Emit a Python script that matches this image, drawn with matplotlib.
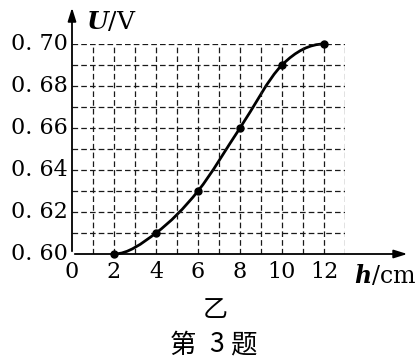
import matplotlib
matplotlib.use("Agg")
import matplotlib.pyplot as plt
from matplotlib.path import Path
from matplotlib.patches import PathPatch
import numpy as np

plt.rcParams["mathtext.fontset"] = "custom"
plt.rcParams["mathtext.it"] = "DejaVu Serif:italic:bold"
plt.rcParams["mathtext.rm"] = "DejaVu Serif"

h_vals = [2, 4, 6, 8, 10, 12]
u_vals = [0.60, 0.61, 0.63, 0.66, 0.69, 0.70]
x_ticks = [0, 2, 4, 6, 8, 10, 12]
y_ticks = [0.60, 0.62, 0.64, 0.66, 0.68, 0.70]
y_tick_labels = ["0. 60", "0. 62", "0. 64", "0. 66", "0. 68", "0. 70"]

W, H = 420, 364
fig = plt.figure(figsize=(W / 100, H / 100), dpi=100)
ax = fig.add_axes([72 / W, (H - 254) / H, 273 / W, 210 / H])
ax.set_xlim(0, 13)
ax.set_ylim(0.60, 0.70)
for s in ax.spines.values():
    s.set_visible(False)
ax.set_xticks([])
ax.set_yticks([])

dash = (0, (4.5, 2.5))
for xv in range(1, 14):
    ax.plot([xv, xv], [0.60, 0.70], color="#1a1a1a", lw=0.9, linestyle=dash)
for k in range(1, 11):
    yv = 0.60 + k * 0.01
    ax.plot([0, 13], [yv, yv], color="#1a1a1a", lw=0.9, linestyle=dash)

# axes with arrows
ax.annotate("", xy=(16.1, 0.60), xytext=(0, 0.60),
            arrowprops=dict(arrowstyle="-|>,head_length=0.8,head_width=0.25", color="black", lw=1.3),
            annotation_clip=False)
ax.annotate("", xy=(0, 0.7186), xytext=(0, 0.60),
            arrowprops=dict(arrowstyle="-|>,head_length=0.8,head_width=0.25", color="black", lw=1.3),
            annotation_clip=False)

# smooth curve via cubic Hermite -> Bezier (flat tangents at ends)
x = np.array(h_vals, float)
y = np.array(u_vals, float)
n = len(x)
m = np.zeros(n)
for i in range(1, n - 1):
    m[i] = (y[i + 1] - y[i - 1]) / (x[i + 1] - x[i - 1])
verts = [(x[0], y[0])]
codes = [Path.MOVETO]
for i in range(n - 1):
    dx = x[i + 1] - x[i]
    c1 = (x[i] + dx / 3, y[i] + m[i] * dx / 3)
    c2 = (x[i + 1] - dx / 3, y[i + 1] - m[i + 1] * dx / 3)
    verts += [c1, c2, (x[i + 1], y[i + 1])]
    codes += [Path.CURVE4] * 3
ax.add_patch(PathPatch(Path(verts, codes), fill=False, lw=2.0, edgecolor="black", clip_on=False))
ax.plot(h_vals, u_vals, "o", color="black", ms=5, clip_on=False, zorder=5)

serif = "DejaVu Serif"
for xv in x_ticks:
    ax.text(xv, 0.5965, str(xv), ha="center", va="top", fontsize=16, family=serif)
for yv, lab in zip(y_ticks, y_tick_labels):
    ax.text(-0.2, yv, lab, ha="right", va="center", fontsize=16, family=serif)

fig.text(354 / W, 1 - 283 / H, "$h$/cm", ha="left", va="baseline", fontsize=17, family=serif)
fig.text(86 / W, 1 - 29 / H, "$U$/V", ha="left", va="baseline", fontsize=18, family=serif)

cjk = ["Noto Sans CJK SC", "DejaVu Sans"]
fig.text(215 / W, 1 - 310 / H, "乙", ha="center", va="center", fontsize=18, family=cjk)
for cx, ch in [(183, "第"), (217, "3"), (243, "题")]:
    fig.text(cx / W, 1 - 345 / H, ch, ha="center", va="center", fontsize=19, family=cjk)

fig.savefig("out.png", dpi=100)
